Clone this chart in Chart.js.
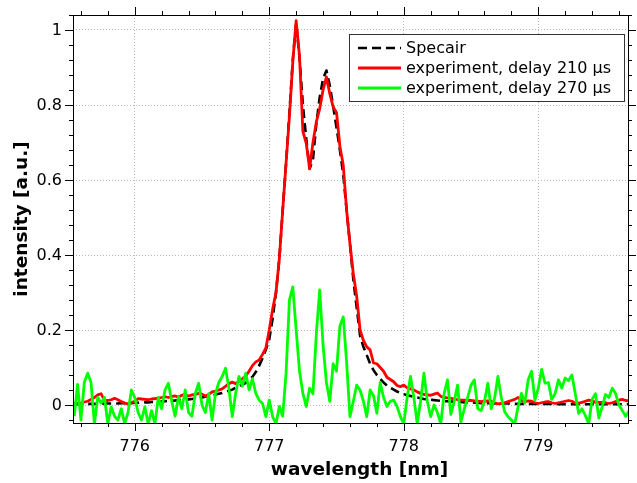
<!DOCTYPE html>
<html>
<head>
<meta charset="utf-8">
<script src="https://cdn.jsdelivr.net/npm/chart.js@4.4.1/dist/chart.umd.min.js"></script>
<style>
  html, body { margin: 0; padding: 0; background: #fff; }
  canvas { display: block; }
</style>
</head>
<body>
<canvas id="spectrum" width="637" height="483"></canvas>
<script>
// wavelength grid [nm]
const wavelength = [
  775.55, 775.575, 775.6, 775.625, 775.65, 775.675, 775.7, 775.725,
  775.75, 775.775, 775.8, 775.825, 775.85, 775.875, 775.9, 775.925,
  775.95, 775.975, 776.0, 776.025, 776.05, 776.075, 776.1, 776.125,
  776.15, 776.175, 776.2, 776.225, 776.25, 776.275, 776.3, 776.325,
  776.35, 776.375, 776.4, 776.425, 776.45, 776.475, 776.5, 776.525,
  776.55, 776.575, 776.6, 776.625, 776.65, 776.675, 776.7, 776.725,
  776.75, 776.775, 776.8, 776.825, 776.85, 776.875, 776.9, 776.925,
  776.95, 776.975, 777.0, 777.025, 777.05, 777.075, 777.1, 777.125,
  777.15, 777.175, 777.2, 777.225, 777.25, 777.275, 777.3, 777.325,
  777.35, 777.375, 777.4, 777.425, 777.45, 777.475, 777.5, 777.525,
  777.55, 777.575, 777.6, 777.625, 777.65, 777.675, 777.7, 777.725,
  777.75, 777.775, 777.8, 777.825, 777.85, 777.875, 777.9, 777.925,
  777.95, 777.975, 778.0, 778.025, 778.05, 778.075, 778.1, 778.125,
  778.15, 778.175, 778.2, 778.225, 778.25, 778.275, 778.3, 778.325,
  778.35, 778.375, 778.4, 778.425, 778.45, 778.475, 778.5, 778.525,
  778.55, 778.575, 778.6, 778.625, 778.65, 778.675, 778.7, 778.725,
  778.75, 778.775, 778.8, 778.825, 778.85, 778.875, 778.9, 778.925,
  778.95, 778.975, 779.0, 779.025, 779.05, 779.075, 779.1, 779.125,
  779.15, 779.175, 779.2, 779.225, 779.25, 779.275, 779.3, 779.325,
  779.35, 779.375, 779.4, 779.425, 779.45, 779.475, 779.5, 779.525,
  779.55, 779.575, 779.6, 779.625, 779.65, 779.675
];

// Specair simulation (normalised)
const specair = [
  0.002, 0.002, 0.002, 0.002, 0.003, 0.003, 0.003, 0.003, 0.003, 0.004,
  0.004, 0.004, 0.004, 0.004, 0.005, 0.005, 0.005, 0.005, 0.006, 0.006,
  0.006, 0.007, 0.007, 0.008, 0.008, 0.009, 0.009, 0.010, 0.011, 0.011,
  0.012, 0.013, 0.013, 0.014, 0.015, 0.016, 0.017, 0.019, 0.020, 0.022,
  0.024, 0.026, 0.028, 0.030, 0.032, 0.035, 0.038, 0.041, 0.046, 0.051,
  0.054, 0.059, 0.066, 0.075, 0.088, 0.105, 0.125, 0.148, 0.175, 0.230,
  0.300, 0.390, 0.520, 0.645, 0.780, 0.920, 1.020, 0.925, 0.800, 0.710,
  0.630, 0.655, 0.750, 0.820, 0.870, 0.892, 0.852, 0.797, 0.740, 0.680,
  0.615, 0.520, 0.430, 0.335, 0.260, 0.185, 0.155, 0.133, 0.110, 0.093,
  0.080, 0.070, 0.060, 0.052, 0.046, 0.041, 0.036, 0.032, 0.029, 0.026,
  0.024, 0.022, 0.020, 0.018, 0.016, 0.015, 0.014, 0.013, 0.012, 0.011,
  0.010, 0.010, 0.009, 0.009, 0.008, 0.008, 0.007, 0.007, 0.006, 0.006,
  0.006, 0.005, 0.005, 0.005, 0.005, 0.004, 0.004, 0.004, 0.004, 0.004,
  0.004, 0.003, 0.003, 0.003, 0.003, 0.003, 0.003, 0.003, 0.003, 0.003,
  0.003, 0.003, 0.003, 0.003, 0.002, 0.002, 0.002, 0.002, 0.002, 0.002,
  0.002, 0.002, 0.002, 0.002, 0.002, 0.002, 0.002, 0.002, 0.002, 0.002,
  0.002, 0.002, 0.002, 0.002, 0.002, 0.002
];

// measured spectrum, delay 210 us
const delay210 = [
  0.004, 0.004, 0.005, 0.008, 0.010, 0.015, 0.020, 0.027, 0.030, 0.012,
  0.012, 0.014, 0.018, 0.014, 0.009, 0.005, 0.003, 0.006, 0.010, 0.017,
  0.016, 0.015, 0.014, 0.016, 0.017, 0.018, 0.020, 0.022, 0.020, 0.023,
  0.024, 0.021, 0.026, 0.027, 0.024, 0.027, 0.028, 0.031, 0.029, 0.024,
  0.028, 0.035, 0.037, 0.040, 0.043, 0.050, 0.057, 0.061, 0.057, 0.063,
  0.070, 0.077, 0.090, 0.105, 0.115, 0.120, 0.135, 0.152, 0.200, 0.255,
  0.300, 0.390, 0.520, 0.645, 0.770, 0.915, 1.025, 0.930, 0.730, 0.698,
  0.630, 0.700, 0.755, 0.790, 0.840, 0.875, 0.830, 0.795, 0.780, 0.690,
  0.640, 0.520, 0.430, 0.350, 0.290, 0.200, 0.172, 0.155, 0.147, 0.112,
  0.110, 0.100, 0.090, 0.074, 0.068, 0.062, 0.052, 0.049, 0.053, 0.046,
  0.043, 0.040, 0.035, 0.031, 0.028, 0.027, 0.026, 0.029, 0.032, 0.023,
  0.020, 0.019, 0.018, 0.016, 0.014, 0.013, 0.013, 0.012, 0.012, 0.011,
  0.010, 0.009, 0.010, 0.011, 0.010, 0.006, 0.003, 0.004, 0.006, 0.009,
  0.012, 0.015, 0.020, 0.012, 0.009, 0.011, 0.010, 0.006, 0.004, 0.006,
  0.008, 0.009, 0.006, 0.004, 0.006, 0.008, 0.010, 0.012, 0.010, 0.005,
  0.005, 0.007, 0.010, 0.013, 0.011, 0.007, 0.007, 0.007, 0.006, 0.004,
  0.006, 0.009, 0.013, 0.015, 0.012, 0.011
];

// measured spectrum, delay 270 us
const delay270 = [
  -0.030, 0.055, -0.040, 0.060, 0.085, 0.060, -0.050, 0.020, 0.005, 0.020,
  -0.050, -0.005, -0.030, -0.040, -0.010, -0.050, -0.020, 0.040, 0.020, -0.020,
  -0.040, -0.005, -0.050, -0.015, -0.050, 0.020, -0.010, 0.040, 0.058, 0.010,
  -0.030, 0.022, -0.010, 0.040, -0.020, -0.030, 0.030, 0.058, 0.000, -0.020,
  0.030, -0.040, 0.030, 0.060, 0.076, 0.098, 0.045, -0.031, 0.031, 0.076,
  0.050, 0.085, 0.040, 0.070, 0.031, 0.013, 0.004, -0.031, 0.013, -0.031,
  -0.050, -0.004, -0.030, 0.085, 0.280, 0.315, 0.200, 0.090, 0.031, -0.004,
  0.045, 0.030, 0.190, 0.307, 0.160, 0.060, 0.010, 0.110, 0.090, 0.210,
  0.235, 0.115, -0.031, 0.010, 0.053, 0.040, 0.010, -0.031, 0.040, 0.025,
  -0.022, 0.060, 0.020, -0.004, 0.010, 0.013, -0.004, -0.031, -0.050, 0.020,
  0.076, 0.020, -0.050, 0.010, 0.085, 0.010, -0.031, 0.000, -0.020, -0.050,
  0.030, 0.067, -0.025, 0.010, 0.053, -0.045, -0.010, 0.020, 0.053, 0.067,
  -0.010, -0.015, 0.010, 0.058, -0.010, 0.018, 0.076, 0.020, -0.018, -0.031,
  -0.040, -0.050, -0.005, 0.031, 0.005, 0.067, 0.090, 0.013, 0.045, 0.095,
  0.058, 0.060, 0.015, 0.030, 0.067, 0.045, 0.072, 0.065, 0.080, 0.030,
  -0.022, -0.010, -0.028, -0.050, 0.015, 0.030, -0.035, -0.005, 0.028, 0.020,
  0.045, 0.030, 0.000, -0.015, -0.030, -0.015
];

const seriesLabels = ["Specair", "experiment, delay 210 µs", "experiment, delay 270 µs"];

const xRange = [775.541, 779.667];
const yRange = [-0.048, 1.04];
const xMajorTicks = [776, 777, 778, 779];
const yMajorTicks = [0, 0.2, 0.4, 0.6, 0.8, 1];
const xMinorStep = 0.2;
const yMinorStep = 0.04;

const FONT = "'DejaVu Sans', 'Liberation Sans', sans-serif";

function toPoints(values) {
  return values.map((v, i) => ({ x: wavelength[i], y: v }));
}

// values of the small ticks between the labelled ones
function minorValues(range, step) {
  const out = [];
  const first = Math.ceil(range[0] / step - 1e-9);
  const last = Math.floor(range[1] / step + 1e-9);
  for (let k = first; k <= last; k++) out.push(+(k * step).toFixed(6));
  return out;
}

// box round the plot plus ticks on all four sides
const frameTicks = {
  id: "frameTicks",
  afterDatasetsDraw(chart) {
    const { ctx, chartArea: a, scales } = chart;
    const major = 8, minor = 4;
    ctx.save();
    ctx.strokeStyle = "#000";
    ctx.lineWidth = 1;
    ctx.beginPath();
    const seg = (x1, y1, x2, y2) => { ctx.moveTo(x1, y1); ctx.lineTo(x2, y2); };

    minorValues(xRange, xMinorStep).forEach((v) => {
      const len = xMajorTicks.includes(v) ? major : minor;
      const px = Math.round(scales.x.getPixelForValue(v)) + 0.5;
      seg(px, a.bottom, px, a.bottom + len);
      seg(px, a.top, px, a.top - len);
    });
    minorValues(yRange, yMinorStep).forEach((v) => {
      const len = yMajorTicks.some((t) => Math.abs(t - v) < 1e-6) ? major : minor;
      const py = Math.round(scales.y.getPixelForValue(v)) + 0.5;
      seg(a.left, py, a.left - len, py);
      seg(a.right, py, a.right + len, py);
    });
    ctx.stroke();

    ctx.strokeRect(a.left + 0.5, a.top + 0.5, a.right - a.left, a.bottom - a.top);
    ctx.restore();
  },
};

// axis titles
const axisTitles = {
  id: "axisTitles",
  afterDraw(chart) {
    const { ctx, chartArea: a } = chart;
    ctx.save();
    ctx.fillStyle = "#000";
    ctx.font = "bold 18.5px " + FONT;
    ctx.textAlign = "center";
    ctx.textBaseline = "middle";
    ctx.fillText("wavelength [nm]", (a.left + a.right) / 2 + 9, a.bottom + 47);
    ctx.translate(22, (a.top + a.bottom) / 2);
    ctx.rotate(-Math.PI / 2);
    ctx.fillText("intensity [a.u.]", 0, 0);
    ctx.restore();
  },
};

// framed legend in the upper right corner of the plot
const legendBox = {
  id: "legendBox",
  afterDraw(chart) {
    const { ctx, chartArea: a } = chart;
    const left = a.right - 279, top = a.top + 19, w = 275, h = 67;
    ctx.save();
    ctx.fillStyle = "#fff";
    ctx.fillRect(left, top, w, h);
    ctx.strokeStyle = "#333";
    ctx.lineWidth = 1;
    ctx.strokeRect(left + 0.5, top + 0.5, w, h);

    ctx.font = "16px " + FONT;
    ctx.textAlign = "left";
    ctx.textBaseline = "middle";
    chart.data.datasets.forEach((ds, i) => {
      const y = top + 14 + i * 20;
      ctx.beginPath();
      ctx.setLineDash(ds.borderDash || []);
      ctx.strokeStyle = ds.borderColor;
      ctx.lineWidth = ds.borderWidth;
      ctx.moveTo(left + 9, y);
      ctx.lineTo(left + 52, y);
      ctx.stroke();
      ctx.setLineDash([]);
      ctx.fillStyle = "#000";
      ctx.fillText(ds.label, left + 57, y + 1);
    });
    ctx.restore();
  },
};

const gridColor = "#b8b8b8";

new Chart(document.getElementById("spectrum"), {
  type: "line",
  data: {
    datasets: [
      {
        label: seriesLabels[0],
        data: toPoints(specair),
        borderColor: "#000000",
        borderWidth: 2.6,
        borderDash: [9, 5],
        order: 2,
      },
      {
        label: seriesLabels[1],
        data: toPoints(delay210),
        borderColor: "#ff0000",
        borderWidth: 2.8,
        order: 1,
      },
      {
        label: seriesLabels[2],
        data: toPoints(delay270),
        borderColor: "#00ff00",
        borderWidth: 2.8,
        order: 0,
      },
    ],
  },
  options: {
    responsive: false,
    animation: false,
    events: [],
    clip: 0,
    layout: { padding: { top: 15, right: 9, left: 0, bottom: 0 } },
    elements: {
      point: { radius: 0 },
      line: { tension: 0, borderJoinStyle: "round", borderCapStyle: "butt" },
    },
    scales: {
      x: {
        type: "linear",
        min: xRange[0],
        max: xRange[1],
        afterBuildTicks: (scale) => {
          scale.ticks = xMajorTicks.map((v) => ({ value: v }));
        },
        afterFit: (scale) => {
          scale.height = 60;
          scale.paddingLeft = 0;
          scale.paddingRight = 0;
        },
        ticks: {
          padding: 14,
          color: "#000",
          maxRotation: 0,
          font: { family: FONT, size: 16 },
          callback: (v) => String(v),
        },
        grid: { color: gridColor, lineWidth: 1, drawTicks: false },
        border: { display: false, dash: [1, 2] },
      },
      y: {
        min: yRange[0],
        max: yRange[1],
        afterBuildTicks: (scale) => {
          scale.ticks = yMajorTicks.map((v) => ({ value: v }));
        },
        afterFit: (scale) => {
          scale.width = 73;
          scale.paddingTop = 0;
          scale.paddingBottom = 0;
        },
        ticks: {
          padding: 11,
          labelOffset: 1,
          color: "#000",
          font: { family: FONT, size: 16 },
          callback: (v) => String(v),
        },
        grid: { color: gridColor, lineWidth: 1, drawTicks: false },
        border: { display: false, dash: [1, 2] },
      },
    },
    plugins: {
      legend: { display: false },
      tooltip: { enabled: false },
      title: { display: false },
    },
  },
  plugins: [frameTicks, axisTitles, legendBox],
});
</script>
</body>
</html>
